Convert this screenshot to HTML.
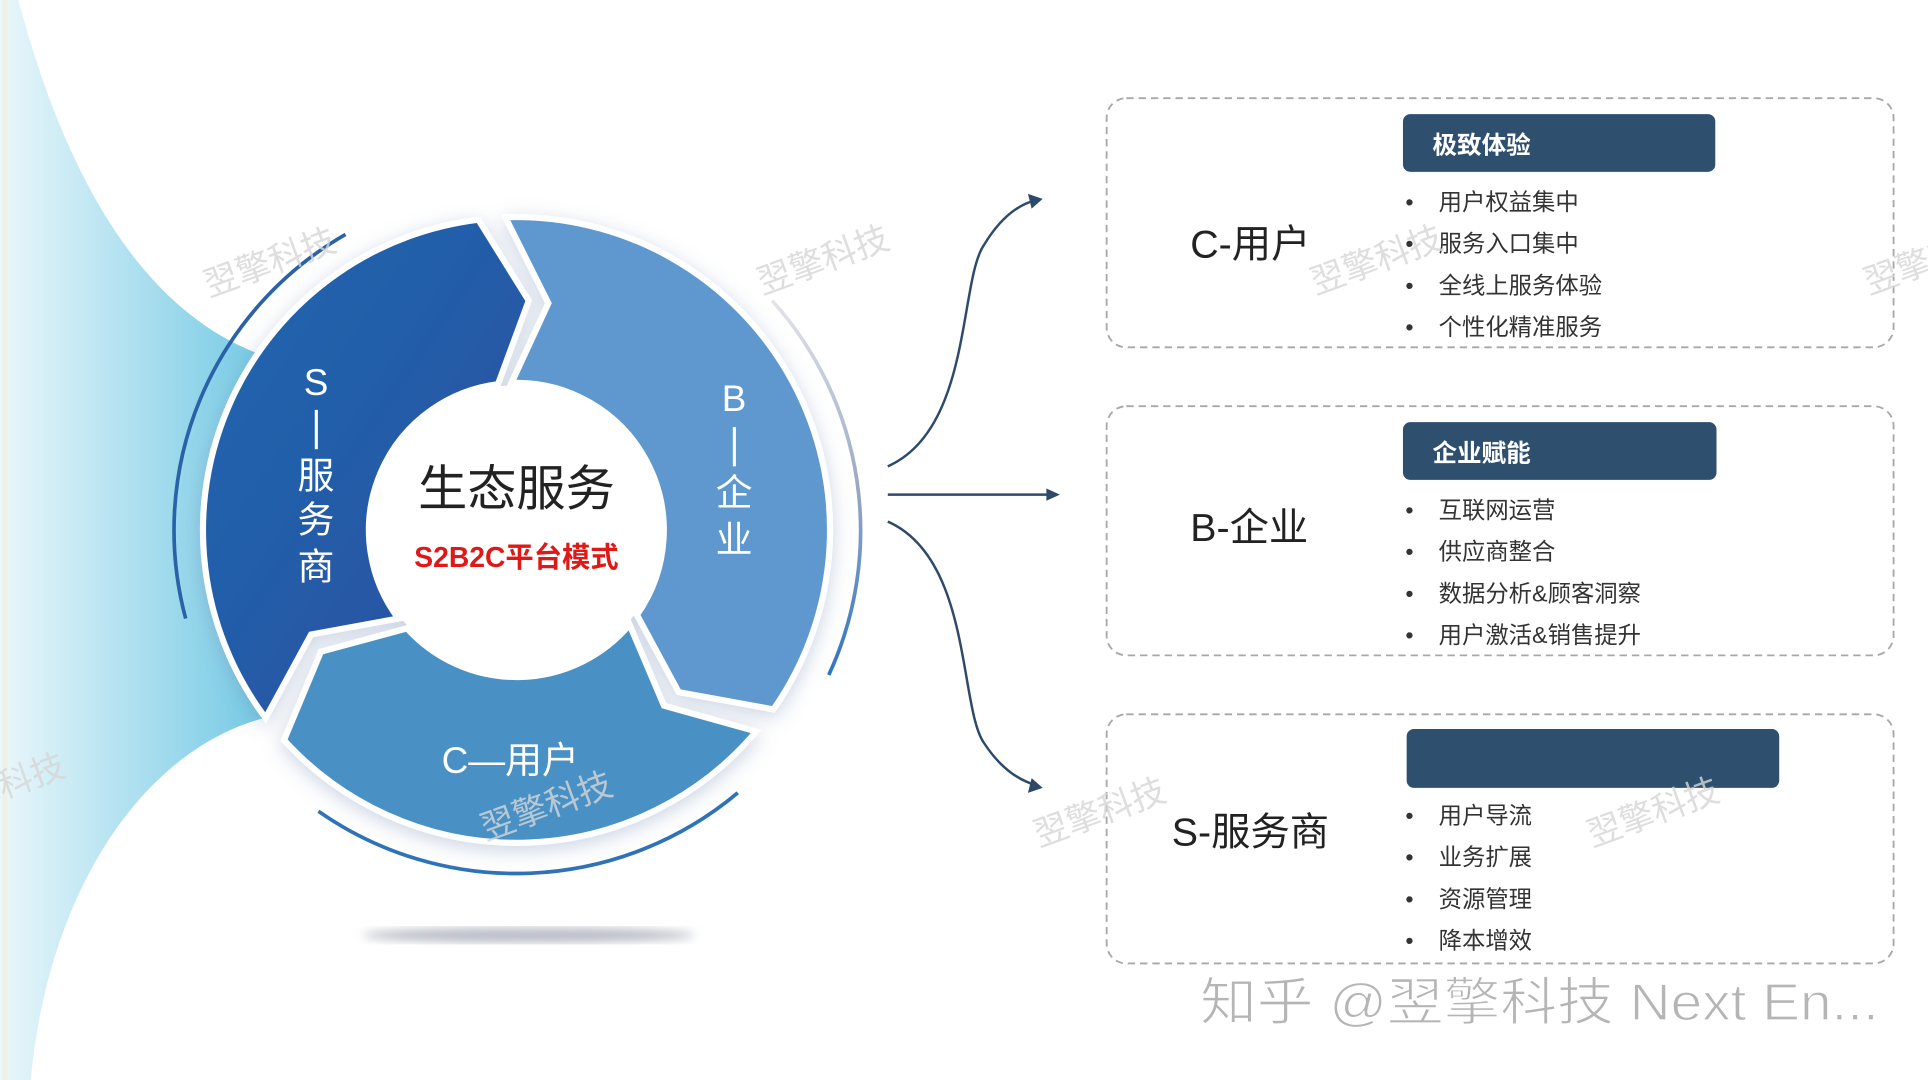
<!DOCTYPE html>
<html><head><meta charset="utf-8"><style>
html,body{margin:0;padding:0;background:#fff;width:1928px;height:1080px;overflow:hidden}
svg{display:block}
text{font-family:"Liberation Sans","Noto Sans CJK SC",sans-serif}
</style></head><body>
<svg width="1928" height="1080" viewBox="0 0 1568 880" preserveAspectRatio="none" xmlns="http://www.w3.org/2000/svg">
<defs>
<linearGradient id="bg" x1="0" y1="0" x2="1" y2="0">
<stop offset="0" stop-color="#eaf7fb"/><stop offset="1" stop-color="#74c9e4"/></linearGradient>
<linearGradient id="sg" x1="0" y1="0" x2="1" y2="1">
<stop offset="0" stop-color="#1c68b0"/><stop offset="1" stop-color="#2d4f9f"/></linearGradient>
<linearGradient id="rg" x1="0" y1="0" x2="0" y2="1">
<stop offset="0" stop-color="#e4e4ea"/><stop offset="0.5" stop-color="#9aa8c4"/><stop offset="1" stop-color="#2f74c0"/></linearGradient>
<filter id="sh" x="-30%" y="-30%" width="160%" height="160%"><feDropShadow dx="0" dy="4" stdDeviation="8" flood-color="#6a86b0" flood-opacity="0.35"/></filter>
<filter id="bl"><feGaussianBlur stdDeviation="4"/></filter>
</defs>
<path d="M0,0 L15,0 C60,170 130,260 215,290 L215,585 C120,610 40,720 25,880 L0,880 Z" fill="url(#bg)"/>
<rect x="2" y="0" width="4" height="880" fill="#f4eedd" opacity="0.7"/>
<ellipse cx="430" cy="762" rx="135" ry="6" fill="#b8bcc6" filter="url(#bl)"/>
<path d="M151,504 A278 278 0 0 1 281,191" fill="none" stroke="#2a62a8" stroke-width="3"/>
<path d="M628,245 A280 280 0 0 1 674,550" fill="none" stroke="url(#rg)" stroke-width="3"/>
<path d="M600,646 A280 280 0 0 1 259,661" fill="none" stroke="#2e72b8" stroke-width="3"/>
<g filter="url(#sh)">
<path d="M411,177 L446,247 L416,312 A120 120 0 0 1 518,501 L552,564 L629,578 A255 255 0 0 0 411,177 Z" fill="#5f98cf" stroke="#fff" stroke-width="5"/>
<path d="M615,596 L540,575 L512,509 A120 120 0 0 1 331,512 L261,531 L231,603 A255 255 0 0 0 615,596 Z" fill="#4a90c5" stroke="#fff" stroke-width="5"/>
<path d="M216,585 L253,517 L324,504 A120 120 0 0 1 405,313 L430,245 L389,179 A255 255 0 0 0 216,585 Z" fill="url(#sg)" stroke="#fff" stroke-width="5"/>
<circle cx="420" cy="432" r="118" fill="#fff"/>
</g>
<text x="420" y="412" font-size="40" text-anchor="middle" fill="#222">生态服务</text>
<text x="420" y="462" font-size="23" font-weight="bold" text-anchor="middle" fill="#e01818">S2B2C平台模式</text>
<g fill="#fff" font-size="30" text-anchor="middle">
<text x="257" y="322">S</text>
<rect x="256" y="334" width="2.5" height="32"/>
<text x="257" y="398">服</text><text x="257" y="434">务</text><text x="257" y="472">商</text>
<text x="597" y="335">B</text>
<rect x="596" y="348" width="2.5" height="32"/>
<text x="597" y="412">企</text><text x="597" y="450">业</text>
<text x="415" y="630" font-size="30">C—用户</text>
</g>
<g fill="none" stroke="#2d4a6a" stroke-width="2">
<path d="M722,380 C790,350 780,230 800,200 C815,175 830,166 843,163"/>
<path d="M722,403 L855,403"/>
<path d="M722,425 C790,455 780,575 800,605 C815,628 830,636 843,640"/>
</g>
<g fill="#2d4a6a">
<path d="M848,162 L836,158 L839,170 Z"/>
<path d="M862,403 L851,398 L851,408 Z"/>
<path d="M848,642 L836,646 L839,634 Z"/>
</g>
<g fill="none" stroke="#a8a8a8" stroke-width="1.5" stroke-dasharray="6 4">
<rect x="900" y="80" width="640" height="203" rx="16"/>
<rect x="900" y="331" width="640" height="203" rx="16"/>
<rect x="900" y="582" width="640" height="203" rx="16"/>
</g>
<g fill="#2e4f6e">
<rect x="1141" y="93" width="254" height="47" rx="6"/>
<rect x="1141" y="344" width="255" height="47" rx="6"/>
<rect x="1144" y="594" width="303" height="48" rx="6"/>
</g>
<g fill="#fff" font-size="20" font-weight="bold">
<text x="1165" y="125">极致体验</text>
<text x="1165" y="376">企业赋能</text>
</g>
<g fill="#222" font-size="32">
<text x="968" y="210">C-用户</text>
<text x="968" y="441">B-企业</text>
<text x="953" y="689">S-服务商</text>
</g>
<g fill="#333" font-size="19">
<text x="1143" y="171">•</text><text x="1170" y="171">用户权益集中</text>
<text x="1143" y="205">•</text><text x="1170" y="205">服务入口集中</text>
<text x="1143" y="239">•</text><text x="1170" y="239">全线上服务体验</text>
<text x="1143" y="273">•</text><text x="1170" y="273">个性化精准服务</text>
<text x="1143" y="422">•</text><text x="1170" y="422">互联网运营</text>
<text x="1143" y="456">•</text><text x="1170" y="456">供应商整合</text>
<text x="1143" y="490">•</text><text x="1170" y="490">数据分析&amp;顾客洞察</text>
<text x="1143" y="524">•</text><text x="1170" y="524">用户激活&amp;销售提升</text>
<text x="1143" y="671">•</text><text x="1170" y="671">用户导流</text>
<text x="1143" y="705">•</text><text x="1170" y="705">业务扩展</text>
<text x="1143" y="739">•</text><text x="1170" y="739">资源管理</text>
<text x="1143" y="773">•</text><text x="1170" y="773">降本增效</text>
</g>
<g fill="#d6d6d6" font-size="28" opacity="0.8">
<text transform="translate(170,242) rotate(-20)">翌擎科技</text>
<text transform="translate(620,240) rotate(-20)">翌擎科技</text>
<text transform="translate(1070,240) rotate(-20)">翌擎科技</text>
<text transform="translate(1520,240) rotate(-20)">翌擎科技</text>
<text transform="translate(-50,670) rotate(-20)">翌擎科技</text>
<text transform="translate(395,685) rotate(-20)">翌擎科技</text>
<text transform="translate(845,690) rotate(-20)">翌擎科技</text>
<text transform="translate(1295,690) rotate(-20)">翌擎科技</text>
</g>
<text x="976" y="831" font-size="42" fill="#b5b5b5" stroke="#fff" stroke-width="1" textLength="552" lengthAdjust="spacingAndGlyphs">知乎 @翌擎科技 Next En...</text>
</svg>
</body></html>
